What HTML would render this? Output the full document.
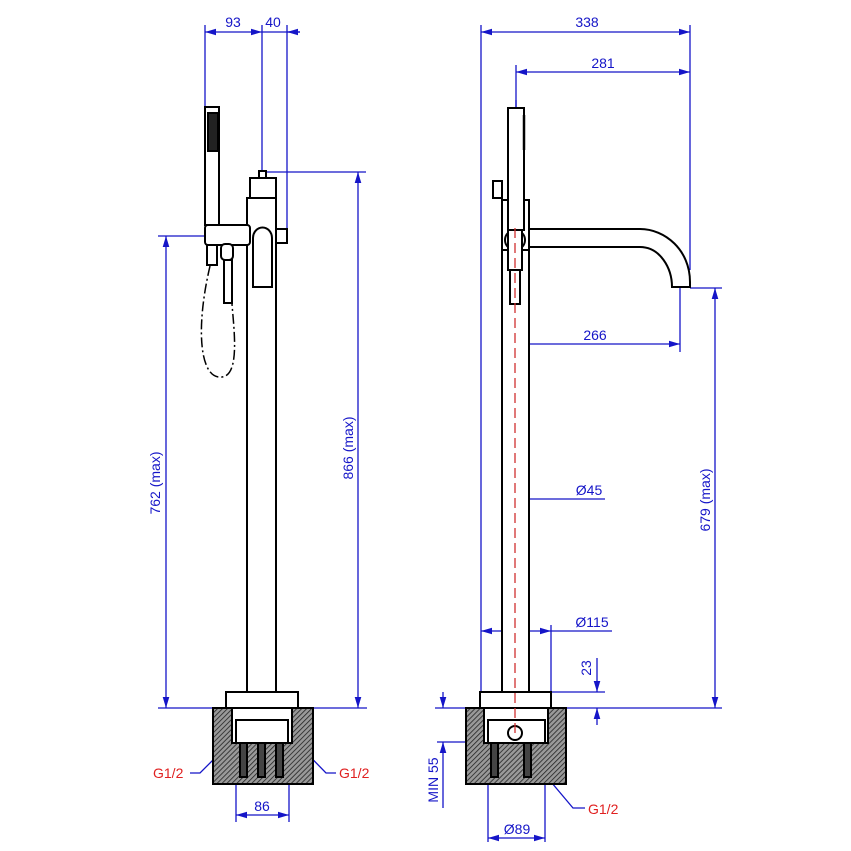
<!DOCTYPE html>
<html><head><meta charset="utf-8"><style>html,body{margin:0;padding:0;background:#fff}svg{display:block}</style></head><body>
<svg width="851" height="851" viewBox="0 0 851 851" xmlns="http://www.w3.org/2000/svg" font-family="Liberation Sans, sans-serif">
<defs>
<pattern id="h" width="3.5" height="3.5" patternUnits="userSpaceOnUse" patternTransform="rotate(45)">
<rect width="4" height="4" fill="#999"/><line x1="0" y1="0" x2="0" y2="4" stroke="#222" stroke-width="1.6"/></pattern>
<marker id="a" viewBox="0 0 10 6" refX="10" refY="3" markerWidth="11" markerHeight="7" orient="auto-start-reverse" markerUnits="userSpaceOnUse"><path d="M0,0 L10,3 L0,6z" fill="#1515c8"/></marker>
</defs>
<rect width="851" height="851" fill="#fff"/>
<g stroke="#1515c8" stroke-width="1.3" fill="none">
<line x1="205" y1="25" x2="205" y2="108"/><line x1="262" y1="25" x2="262" y2="172"/><line x1="287" y1="25" x2="287" y2="232"/>
<line x1="205" y1="32" x2="262" y2="32" marker-start="url(#a)" marker-end="url(#a)"/>
<line x1="262" y1="32" x2="300" y2="32"/><line x1="287" y1="32" x2="300" y2="32" marker-start="url(#a)"/>
<line x1="262" y1="172" x2="366" y2="172"/>
<line x1="358" y1="172" x2="358" y2="708" marker-start="url(#a)" marker-end="url(#a)"/>
<line x1="158" y1="236" x2="250" y2="236"/>
<line x1="166" y1="236" x2="166" y2="708" marker-start="url(#a)" marker-end="url(#a)"/>
<line x1="158" y1="708" x2="367" y2="708"/>
<line x1="236" y1="743" x2="236" y2="822"/><line x1="289" y1="743" x2="289" y2="822"/>
<line x1="236" y1="815" x2="289" y2="815" marker-start="url(#a)" marker-end="url(#a)"/>
<polyline points="190,773 200,773 236,737" marker-end="url(#a)"/>
<polyline points="336,773 326,773 291,737" marker-end="url(#a)"/>
<line x1="481" y1="25" x2="481" y2="692"/><line x1="690" y1="25" x2="690" y2="270"/>
<line x1="481" y1="32" x2="690" y2="32" marker-start="url(#a)" marker-end="url(#a)"/>
<line x1="516" y1="65" x2="516" y2="108"/>
<line x1="516" y1="72" x2="690" y2="72" marker-start="url(#a)" marker-end="url(#a)"/>
<line x1="680" y1="288" x2="680" y2="352"/>
<line x1="516" y1="344" x2="680" y2="344" marker-start="url(#a)" marker-end="url(#a)"/>
<line x1="502" y1="499" x2="529" y2="499" marker-start="url(#a)" marker-end="url(#a)"/>
<line x1="529" y1="499" x2="605" y2="499"/>
<line x1="551" y1="625" x2="551" y2="692"/>
<line x1="481" y1="631" x2="551" y2="631" marker-start="url(#a)" marker-end="url(#a)"/>
<line x1="551" y1="631" x2="612" y2="631"/>
<line x1="551" y1="692" x2="605" y2="692"/>
<line x1="597" y1="658" x2="597" y2="692" marker-end="url(#a)"/>
<line x1="597" y1="725" x2="597" y2="708" marker-end="url(#a)"/>
<line x1="690" y1="288" x2="722" y2="288"/>
<line x1="715" y1="288" x2="715" y2="708" marker-start="url(#a)" marker-end="url(#a)"/>
<line x1="435" y1="708" x2="722" y2="708"/>
<line x1="437" y1="742" x2="488" y2="742"/>
<line x1="443" y1="692" x2="443" y2="708" marker-end="url(#a)"/>
<line x1="443" y1="758" x2="443" y2="742" marker-end="url(#a)"/>
<line x1="443" y1="758" x2="443" y2="808"/>
<line x1="488" y1="743" x2="488" y2="842"/><line x1="545" y1="743" x2="545" y2="842"/>
<line x1="488" y1="838" x2="545" y2="838" marker-start="url(#a)" marker-end="url(#a)"/>
<polyline points="585,808 573,808 514,738" marker-end="url(#a)"/>
<line x1="516" y1="100" x2="516" y2="240"/>
</g>
<g stroke="#000" stroke-width="2" fill="#fff">
<rect x="213" y="708" width="100" height="76" fill="url(#h)"/>
<rect x="232" y="708" width="60" height="35"/>
<rect x="236" y="720" width="52" height="23"/>
<rect x="240" y="743" width="7" height="34" fill="#444"/><rect x="258" y="743" width="7" height="34" fill="#444"/><rect x="276" y="743" width="7" height="34" fill="#444"/>
<rect x="226" y="692" width="72" height="16"/>
<rect x="247" y="198" width="29" height="494"/>
<rect x="250" y="178" width="26" height="20"/>
<rect x="259" y="171" width="7" height="7"/>
<rect x="276" y="229" width="11" height="14"/>
<rect x="205" y="107" width="14" height="118"/>
<rect x="208" y="113" width="10" height="38" fill="#222"/>
<rect x="205" y="225" width="45" height="20" rx="3"/>
<path d="M253,245 V238 A9,10 0 0 1 272,238 V287 H253 Z"/>
<rect x="207" y="245" width="10" height="20"/>
<rect x="221" y="244" width="12" height="16" rx="4"/><rect x="224" y="260" width="8" height="43"/>
</g>
<path d="M210,266 C195,330 200,380 222,377 C240,375 234,330 232,304" stroke="#000" stroke-width="1.5" fill="none" stroke-dasharray="10,3,2,3"/>
<g stroke="#000" stroke-width="2" fill="#fff">
<rect x="466" y="708" width="100" height="76" fill="url(#h)"/>
<rect x="484" y="708" width="64" height="35"/>
<rect x="488" y="720" width="57" height="23"/>
<circle cx="515" cy="733" r="7"/>
<rect x="491" y="743" width="7" height="34" fill="#444"/><rect x="524" y="743" width="7" height="34" fill="#444"/>
<rect x="480" y="692" width="71" height="16"/>
<rect x="502" y="250" width="27" height="442"/>
<rect x="502" y="200" width="27" height="50"/>
<rect x="493" y="181" width="9" height="17"/>
<path d="M529,229 H640 C665,229 690,250 690,282 V287 H672 C672,268 660,247 640,247 H529 Z"/>
<rect x="508" y="108" width="16" height="122"/>
<line x1="524" y1="115" x2="524" y2="150" stroke-width="2.5"/>
<circle cx="515" cy="240" r="10"/>
<rect x="508" y="230" width="14" height="40"/>
<rect x="510" y="270" width="10" height="34"/>
</g>
<line x1="515" y1="228" x2="515" y2="738" stroke="#d03030" stroke-width="1.3" stroke-dasharray="10,5"/>
<g fill="#1515c8" font-size="14" text-anchor="middle">
<text x="233" y="27">93</text><text x="273" y="27">40</text>
<text x="262" y="811">86</text>
<text x="587" y="27">338</text><text x="603" y="68">281</text>
<text x="595" y="340">266</text><text x="589" y="495">Ø45</text>
<text x="592" y="627">Ø115</text>
<text x="517" y="834">Ø89</text>
<text transform="translate(353,448) rotate(-90)">866 (max)</text>
<text transform="translate(160,483) rotate(-90)">762 (max)</text>
<text transform="translate(710,500) rotate(-90)">679 (max)</text>
<text transform="translate(591,668) rotate(-90)">23</text>
<text transform="translate(438,780) rotate(-90)">MIN 55</text>
</g>
<g fill="#e02020" font-size="14">
<text x="153" y="778">G1/2</text><text x="339" y="778">G1/2</text><text x="588" y="814">G1/2</text>
</g>
</svg>
</body></html>
